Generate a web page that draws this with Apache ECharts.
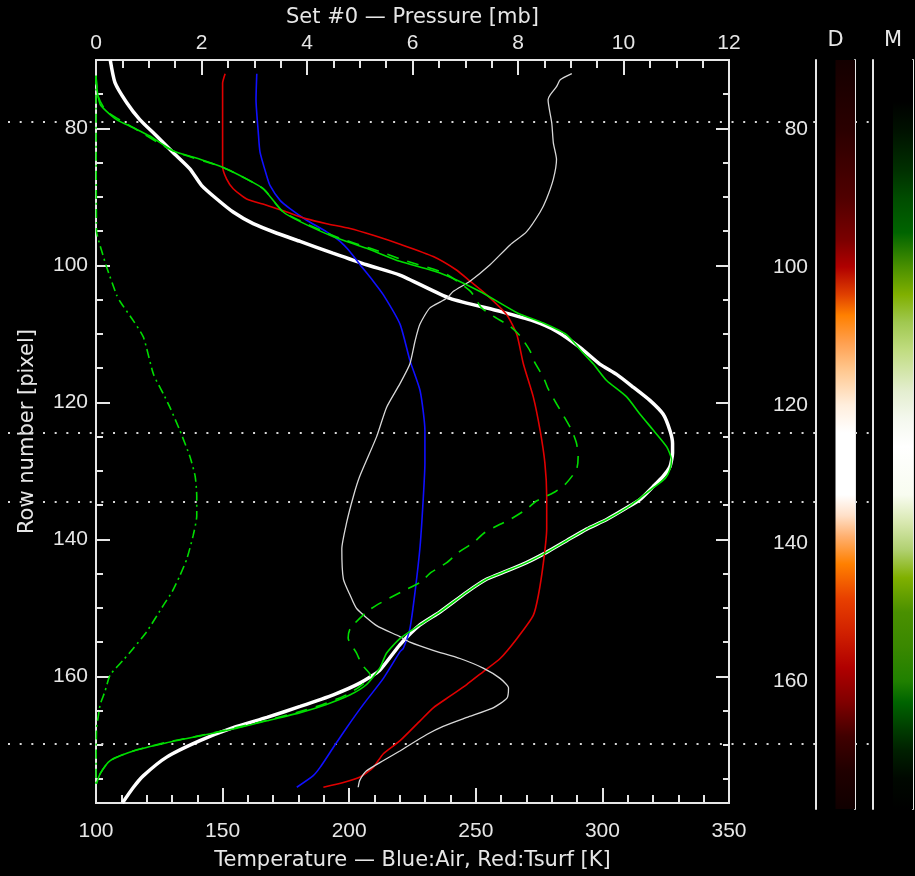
<!DOCTYPE html>
<html><head><meta charset="utf-8">
<script src="https://cdn.jsdelivr.net/npm/echarts@6/dist/echarts.min.js"></script>
<style>html,body{margin:0;padding:0;background:#000}#c{width:915px;height:876px}</style>
</head><body><div id="c"></div>
<script>
// ---------- data (row, value) ----------
const rowRange = [70, 178.5];
const rowMajorTicks = [80, 100, 120, 140, 160];
const rowMinorTicks = [75, 85, 90, 95, 105, 110, 115, 125, 130, 135, 145, 150, 155, 165, 170, 175];
const dottedRows = [79, 124, 134, 169];

// thick white (pressure, top axis)
const whiteCurve = [[70.0,0.27],[73.3,0.36],[76.2,0.58],[78.7,0.83],[81.1,1.15],[83.5,1.46],[85.9,1.78],[88.3,2.00],[90.3,2.29],[92.2,2.60],[93.9,2.98],[95.3,3.43],[96.5,3.87],[98.2,4.49],[99.9,5.13],[101.4,5.76],[104.8,6.71],[106.7,7.66],[108.1,8.29],[109.6,8.73],[112.0,9.18],[114.4,9.55],[115.9,9.87],[117.8,10.19],[119.7,10.50],[121.7,10.75],[124.1,10.88],[126.0,10.93],[127.4,10.93],[129.4,10.88],[130.8,10.75],[132.3,10.56],[134.2,10.31],[135.4,10.06],[137.1,9.68],[138.5,9.30],[140.2,8.92],[141.9,8.54],[143.4,8.16],[144.6,7.79],[145.8,7.41],[147.7,7.03],[150.6,6.52],[152.5,6.14],[155.4,5.76],[159.1,5.38],[161.0,5.00],[162.7,4.50],[164.4,3.87],[166.0,3.24],[167.5,2.60],[169.4,1.97],[171.8,1.34],[174.5,0.90],[176.2,0.71],[178.5,0.50]];
// thin grey (pressure)
const greyCurve = [[72,9.02],[72.9,8.80],[73.9,8.73],[75.1,8.61],[75.8,8.57],[79.2,8.64],[82.1,8.67],[84.5,8.73],[87.4,8.67],[90.3,8.54],[92.2,8.42],[95.1,8.16],[97.0,7.85],[99.9,7.47],[102.3,7.09],[103.8,6.77],[104.8,6.65],[106.2,6.33],[108.6,6.14],[111.0,6.05],[114.4,5.95],[117.3,5.76],[120.7,5.51],[125.0,5.32],[130.8,5.00],[133.7,4.88],[137.6,4.75],[141.4,4.66],[145.8,4.69],[148.2,4.82],[150.1,4.94],[152.6,5.32],[154.2,5.76],[155.0,5.95],[156.2,6.39],[157.4,6.90],[158.8,7.34],[160.3,7.66],[161.7,7.82],[163.2,7.79],[164.6,7.53],[166.0,7.03],[167.3,6.58],[168.5,6.27],[170.9,5.76],[172.3,5.45],[173.8,5.13],[175.2,5.00],[176.2,4.97]];
// green solid (pressure)
const greenSolid = [[72.3,0.00],[74.3,0.02],[75.3,0.04],[76.5,0.08],[77.5,0.20],[78.7,0.39],[79.9,0.71],[81.1,1.02],[83.3,1.47],[84.5,1.97],[85.7,2.41],[87.4,2.86],[88.8,3.17],[92.2,3.55],[93.6,3.87],[95.8,4.50],[97.5,5.13],[99.4,5.76],[101.1,6.52],[103.8,7.28],[106.9,7.98],[108.4,8.48],[110.1,8.92],[112.5,9.20],[114.4,9.43],[116.8,9.68],[119.2,10.06],[121.7,10.31],[124.1,10.57],[126.5,10.82],[128.4,10.91],[129.8,10.88],[131.1,10.79],[132.5,10.56],[134.0,10.31],[135.4,10.06],[137.1,9.68],[138.5,9.30],[140.2,8.92],[141.9,8.54],[143.4,8.16],[144.6,7.79],[145.8,7.41],[147.7,7.03],[150.6,6.52],[152.5,6.14],[154.5,5.76],[156.6,5.51],[158.8,5.38],[161.2,5.13],[162.7,4.82],[164.1,4.37],[165.3,3.87],[166.5,3.24],[167.7,2.60],[168.7,1.97],[169.7,1.34],[170.9,0.71],[172.3,0.27],[174.2,0.08],[175.7,0.01]];
// green dashed (pressure)
const greenDashed = [[72.3,0.00],[75.3,0.04],[77.5,0.20],[79.9,0.71],[83.3,1.47],[85.7,2.41],[88.8,3.17],[92.2,3.55],[95.8,4.55],[97.5,5.20],[99.4,5.90],[101.1,6.60],[103.8,7.10],[106.2,7.31],[107.4,7.53],[108.9,7.85],[110.3,8.04],[112.5,8.23],[114.2,8.32],[116.3,8.48],[118.0,8.57],[120.2,8.73],[121.9,8.86],[124.1,9.02],[126.0,9.11],[127.9,9.14],[129.8,9.11],[132.0,8.89],[133.2,8.67],[134.4,8.35],[135.6,8.16],[137.1,7.85],[137.8,7.66],[139.0,7.37],[140.5,7.15],[141.9,6.87],[143.4,6.65],[144.8,6.36],[146.3,6.14],[147.5,5.83],[149.6,5.32],[150.6,5.13],[153.0,4.82],[154.4,4.78],[156.6,4.94],[158.3,5.04],[159.8,5.20],[161.2,5.05],[162.7,4.75],[164.1,4.30],[165.3,3.80],[166.5,3.20],[167.7,2.55],[168.7,1.95],[169.7,1.30],[170.9,0.70],[172.3,0.27],[174.2,0.08],[175.7,0.01]];
// green dash-dot (pressure)
const greenDashDot = [[72.3,0.00],[95.0,0.01],[96.1,0.04],[100.2,0.20],[104.3,0.39],[105.2,0.45],[108.1,0.71],[110.5,0.90],[115.9,1.09],[118.8,1.28],[120.7,1.40],[124.1,1.59],[127.9,1.78],[130.8,1.88],[133.7,1.91],[136.6,1.91],[139.5,1.84],[142.9,1.72],[145.3,1.59],[147.7,1.44],[149.6,1.28],[153.5,0.96],[155.9,0.71],[157.6,0.52],[159.8,0.27],[162.2,0.17],[164.1,0.08],[166.0,0.04],[167.5,0.01],[175.7,0.00]];
// blue: air temperature (bottom axis)
const blueAir = [[72,163.5],[75.8,163.2],[80.6,164.1],[83.5,164.8],[86.9,167.4],[88.3,168.7],[90.5,172.7],[91.7,176.6],[93.4,183.2],[95.1,191.1],[96.5,196.4],[98.0,200.3],[99.9,204.3],[102.3,209.5],[104.3,213.5],[108.6,220.1],[113.9,224.0],[118.3,228.0],[124.1,229.9],[128.9,229.9],[133.7,229.3],[141.0,228.0],[147.7,226.0],[153.0,224.0],[155.9,221.4],[156.4,220.1],[160.3,213.5],[164.1,205.6],[167.5,199.0],[170.4,193.7],[173.3,188.5],[174.5,185.8],[176.2,179.3]];
// red: surface temperature (bottom axis)
const redTsurf = [[72,151.0],[73.4,150.0],[85.5,150.0],[87.4,151.6],[88.8,154.2],[90.3,159.5],[91.2,167.4],[92.2,175.3],[93.2,183.2],[93.9,191.1],[94.6,200.3],[95.6,209.5],[96.9,220.1],[98.7,233.2],[100.7,242.5],[102.3,247.7],[104.3,254.3],[107.2,262.2],[110.1,266.2],[114.4,268.8],[119.2,272.7],[124.1,275.4],[128.9,277.3],[133.7,278.0],[138.5,278.0],[143.4,276.7],[148.2,274.7],[151.1,272.7],[154.5,266.2],[157.4,259.6],[159.3,253.0],[161.2,246.4],[162.9,239.8],[164.6,233.2],[166.5,228.0],[169.4,220.1],[171.3,213.5],[173.3,209.5],[174.7,204.3],[175.5,197.7],[176.2,189.8]];

// colour bars: [row, colour]
const dStops = [[70,'#140000'],[80,'#2a0000'],[90,'#500000'],[96,'#7a0000'],[100,'#b00000'],[104,'#e04000'],[107,'#ff8000'],[111,'#ffa050'],[115,'#ffc890'],[120,'#ffeedd'],[124,'#ffffff'],[133,'#ffffff'],[136,'#ffe0c8'],[139,'#ffb070'],[143,'#ff8000'],[148,'#e84000'],[153,'#d02000'],[158,'#b00000'],[163,'#800000'],[168,'#400000'],[173,'#200000'],[178.5,'#100000']];
const mStops = [[70,'#000000'],[76,'#000000'],[80,'#001000'],[86,'#003000'],[90,'#004c00'],[95,'#006400'],[100,'#4a9000'],[104,'#80b000'],[108,'#a0c850'],[112,'#c0dc80'],[118,'#e4eed0'],[122,'#f4f8ee'],[126,'#ffffff'],[133,'#f8fcf0'],[137,'#d8e8b0'],[141,'#b0d070'],[145,'#80b000'],[150,'#4a9000'],[155,'#3a8800'],[160,'#208000'],[163,'#006400'],[167,'#003c00'],[170,'#002000'],[174,'#000800'],[178.5,'#000000']];

// ---------- chart ----------
const FG = '#e6e6e6';
const labelFont = {color: FG, fontFamily: 'Liberation Sans', fontSize: 21};
const nameFont = {color: FG, fontFamily: 'DejaVu Sans', fontSize: 21};
const axLine = {show: true, lineStyle: {color: FG, width: 2}};
const noSplit = {show: false};

function rowAxis(extra) {
  return Object.assign({
    type: 'value', min: rowRange[0], max: rowRange[1], inverse: true,
    splitLine: noSplit, axisLine: axLine
  }, extra);
}
function bar(stops) {
  const span = rowRange[1] - rowRange[0];
  return new echarts.graphic.LinearGradient(0, 0, 0, 1,
    stops.map(s => ({offset: (s[0] - rowRange[0]) / span, color: s[1]})));
}
function colourBar(gi, stops) {
  return {
    type: 'custom', xAxisIndex: gi, yAxisIndex: gi === 3 ? 5 : 7, silent: true,
    data: [[1, rowRange[0], 2, rowRange[1]]],
    renderItem: (params, api) => {
      const p0 = api.coord([api.value(0), api.value(1)]);
      const p1 = api.coord([api.value(2), api.value(3)]);
      return {type: 'rect', shape: {x: p0[0], y: p0[1], width: p1[0] - p0[0], height: p1[1] - p0[1]},
        style: {fill: bar(stops)}};
    }
  };
}
const xy = arr => arr.map(d => [d[1], d[0]]);
function curve(data, xi, color, width, type, z) {
  return {type: 'line', xAxisIndex: xi, yAxisIndex: 0, data: xy(data), showSymbol: false,
    symbol: 'none', smooth: 0.2, z: z, silent: true,
    lineStyle: {color: color, width: width, type: type || 'solid'}};
}

const chart = echarts.init(document.getElementById('c'));
chart.setOption({
  backgroundColor: '#000',
  animation: false,
  grid: [
    {left: 96, top: 60, width: 633, height: 749},
    {left: 0, top: 60, width: 915, height: 749},
    {left: 816, top: 60, width: 39, height: 749},
    {left: 873, top: 60, width: 40, height: 749}
  ],
  xAxis: [
    {gridIndex: 0, type: 'value', position: 'bottom', min: 100, max: 350, interval: 50,
     name: 'Temperature — Blue:Air, Red:Tsurf [K]', nameLocation: 'middle', nameGap: 47, nameTextStyle: nameFont,
     axisLine: axLine, splitLine: noSplit,
     axisTick: {inside: true, length: 15, lineStyle: {color: FG, width: 2}},
     minorTick: {show: true, splitNumber: 5, length: 8, lineStyle: {color: FG, width: 2}},
     axisLabel: Object.assign({margin: 18}, labelFont)},
    {gridIndex: 0, type: 'value', position: 'top', min: 0, max: 12, interval: 2,
     name: 'Set #0 — Pressure [mb]', nameLocation: 'middle', nameGap: 21, nameTextStyle: nameFont,
     axisLine: axLine, splitLine: noSplit,
     axisTick: {inside: true, length: 15, lineStyle: {color: FG, width: 2}},
     minorTick: {show: true, splitNumber: 4, length: 8, lineStyle: {color: FG, width: 2}},
     axisLabel: Object.assign({margin: 6}, labelFont)},
    {gridIndex: 1, type: 'value', min: 0, max: 915, show: false},
    {gridIndex: 2, type: 'value', min: 0, max: 2, position: 'top', name: 'D', nameLocation: 'middle', nameGap: 9,
     nameTextStyle: nameFont, axisLine: {show: false}, axisTick: {show: false}, axisLabel: {show: false}, splitLine: noSplit},
    {gridIndex: 3, type: 'value', min: 0, max: 2, position: 'top', name: 'M', nameLocation: 'middle', nameGap: 9,
     nameTextStyle: nameFont, axisLine: {show: false}, axisTick: {show: false}, axisLabel: {show: false}, splitLine: noSplit}
  ],
  yAxis: [
    rowAxis({gridIndex: 0, position: 'left', name: 'Row number [pixel]', nameLocation: 'middle', nameGap: 58,
      nameTextStyle: nameFont,
      axisTick: {inside: true, length: 14, customValues: rowMajorTicks, lineStyle: {color: FG, width: 2}},
      axisLabel: Object.assign({margin: 8, customValues: rowMajorTicks}, labelFont)}),
    rowAxis({gridIndex: 0, position: 'left',
      axisTick: {inside: true, length: 7, customValues: rowMinorTicks, lineStyle: {color: FG, width: 2}},
      axisLabel: {show: false}}),
    rowAxis({gridIndex: 0, position: 'right',
      axisTick: {inside: true, length: 13, customValues: rowMajorTicks, lineStyle: {color: FG, width: 2}},
      axisLabel: {show: false}}),
    rowAxis({gridIndex: 0, position: 'right',
      axisTick: {inside: true, length: 6, customValues: rowMinorTicks, lineStyle: {color: FG, width: 2}},
      axisLabel: {show: false}}),
    rowAxis({gridIndex: 1, show: false}),
    rowAxis({gridIndex: 2, position: 'left', axisTick: {show: false},
      axisLabel: Object.assign({margin: 8, customValues: rowMajorTicks}, labelFont)}),
    rowAxis({gridIndex: 2, position: 'right', axisTick: {show: false}, axisLabel: {show: false}}),
    rowAxis({gridIndex: 3, position: 'left', axisTick: {show: false}, axisLabel: {show: false}}),
    rowAxis({gridIndex: 3, position: 'right', axisTick: {show: false}, axisLabel: {show: false}})
  ],
  series: [
    {type: 'lines', coordinateSystem: 'cartesian2d', xAxisIndex: 2, yAxisIndex: 4, silent: true, z: 1,
     lineStyle: {color: '#d8d8d8', width: 2, type: [2, 9.67], opacity: 1},
     data: dottedRows.flatMap(r => [{coords: [[8, r], [816, r]]}, {coords: [[855, r], [873, r]]}])},
    colourBar(3, dStops),
    colourBar(4, mStops),
    curve(whiteCurve, 1, '#ffffff', 3.5, 'solid', 3),
    curve(blueAir, 0, '#1010ff', 1.6, 'solid', 4),
    curve(redTsurf, 0, '#e00000', 1.6, 'solid', 4),
    curve(greyCurve, 1, '#d8d8d8', 1.3, 'solid', 4),
    curve(greenSolid, 1, '#00dd00', 1.6, 'solid', 5),
    curve(greenDashed, 1, '#00dd00', 1.6, [12, 9], 5),
    curve(greenDashDot, 1, '#00dd00', 1.6, [9, 4, 2, 4], 5)
  ]
});
</script></body></html>
